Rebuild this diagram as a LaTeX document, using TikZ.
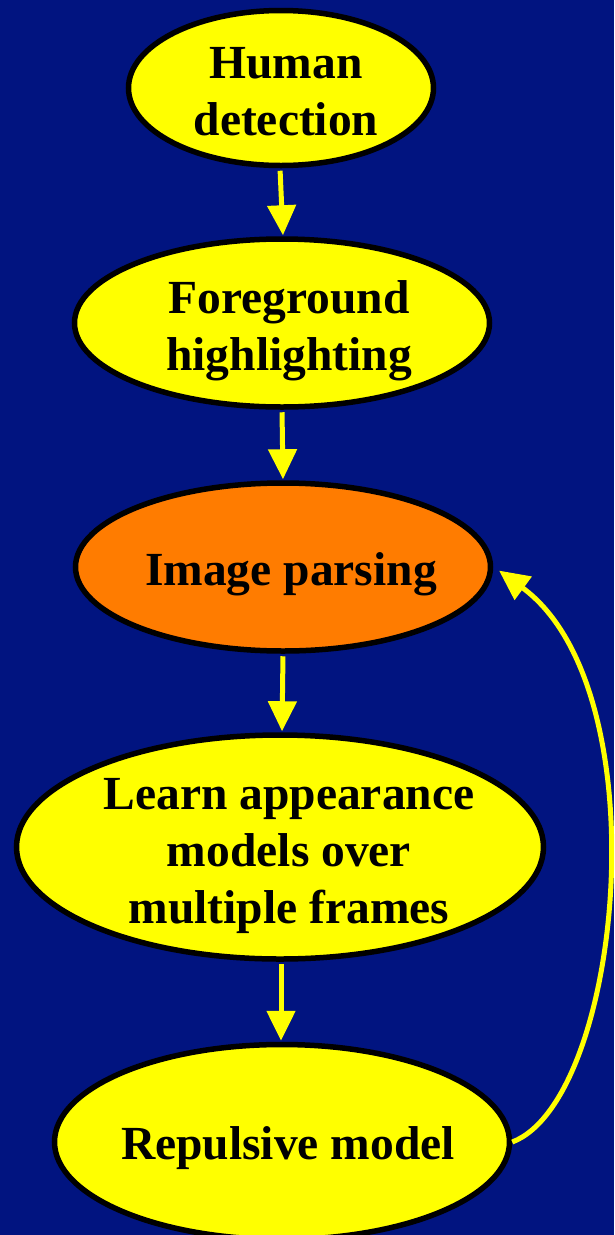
\documentclass[tikz,border=0pt]{standalone}
\usepackage{fontspec}
\setmainfont{Liberation Serif}
\usetikzlibrary{shapes.geometric,arrows.meta,calc}
\definecolor{bgblue}{RGB}{1,20,128}
\definecolor{stepyellow}{RGB}{255,255,0}
\definecolor{steporange}{RGB}{255,124,0}
\begin{document}
\begin{tikzpicture}[x=1pt,y=-1pt,
  blob/.style={ellipse, draw=black, line width=5.5pt, fill=stepyellow, inner sep=0pt},
  lbl/.style={font=\fontsize{47.5}{57}\selectfont\bfseries, align=center, text=black, inner sep=0pt},
  flow/.style={draw=stepyellow, line width=5pt, shorten <=2.5pt, shorten >=1pt,
    -{Triangle[width=28pt,length=30pt]}}]
% background
\fill[bgblue] (0,0) rectangle (614,1235);
\useasboundingbox (0,0) rectangle (614,1235);

% stages
\node[blob, minimum width=305pt, minimum height=155pt] (e1) at (281,88) {};
\node[blob, minimum width=415pt, minimum height=168pt] (e2) at (282,323) {};
\node[blob, fill=steporange, minimum width=415pt, minimum height=168pt] (e3) at (283,567) {};
\node[blob, minimum width=527pt, minimum height=224pt] (e4) at (280,847) {};
\node[blob, minimum width=455pt, minimum height=195pt] (e5) at (282,1142) {};

% labels
\node[lbl] (t1) at (286,92) {Human\\detection};
\node[lbl] (t2) at (289,331) {Foreground\\highlighting};
\node[lbl] (t3) at (291,574) {Image parsing};
\node[lbl] (t4) at (289,856) {Learn appearance\\models over\hspace*{8pt}\\multiple frames};
\node[lbl] (t5) at (288,1148) {Repulsive model};

% connectors
\draw[flow] ($(e1.south)+(-1,0)$) -- ($(e2.north)+(1,0)$);
\draw[flow] (e2.south) -- (e3.north);
\draw[flow] (e3.south) -- ($(e4.north)+(2,0)$);
\draw[flow] ($(e4.south)+(1,0)$) -- ($(e5.north)+(-1,0)$);
\draw[flow, line width=5pt, shorten <=0pt] (e5.east) .. controls (622,1100) and (662,690) .. ($(e3.east)+(5,3)$);
\end{tikzpicture}
\end{document}
